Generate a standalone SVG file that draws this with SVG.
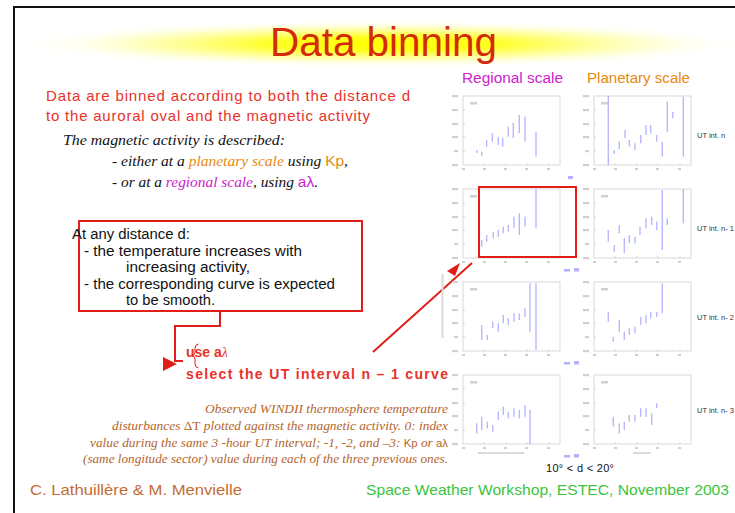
<svg xmlns="http://www.w3.org/2000/svg" width="735" height="513" viewBox="0 0 735 513">
<defs>
  <radialGradient id="glow" cx="0.5" cy="0.5" r="0.5">
    <stop offset="0" stop-color="#ffff00"/>
    <stop offset="0.3" stop-color="#ffff20"/>
    <stop offset="0.65" stop-color="#ffffa0" stop-opacity="0.75"/>
    <stop offset="1" stop-color="#ffffff" stop-opacity="0"/>
  </radialGradient>
  <g id="panel">
    <rect x="0" y="0" width="97" height="69" fill="#ffffff" stroke="#cfcfcf" stroke-width="0.8"/>
    <g fill="#d0d0d0">
      <rect x="-11" y="-1" width="6" height="2.2"/>
      <rect x="-11" y="13" width="6" height="2.2"/>
      <rect x="-11" y="27" width="6" height="2.2"/>
      <rect x="-11" y="40" width="6" height="2.2"/>
      <rect x="-9" y="54" width="4" height="2.2"/>
      <rect x="-11" y="68" width="6" height="2.2"/>
      <rect x="-1" y="72" width="3" height="2"/>
      <rect x="20" y="72" width="3" height="2"/>
      <rect x="41" y="72" width="3" height="2"/>
      <rect x="62" y="72" width="3" height="2"/>
      <rect x="84" y="72" width="3" height="2"/>
      <rect x="7" y="6" width="7" height="2.5"/>
    </g>
    <path d="M0 14h2M0 28h2M0 41h2M0 55h2M21 69v-2M43 69v-2M64 69v-2M86 69v-2" stroke="#cfcfcf" stroke-width="0.8"/>
  </g>
</defs>
<style>
  .sans{font-family:"Liberation Sans",Arial,Helvetica,sans-serif}
  .serif{font-family:"Liberation Serif","Times New Roman",serif}
  .it{font-style:italic}
  .red{fill:#e8322a}
  .mag{fill:#cc22cc}
  .org{fill:#e8890f}
  .cap{fill:#b5652d}
  .bar{stroke:#9a9aff;stroke-width:1.4;fill:none;opacity:0.7}
  .conn{stroke:#e02018;stroke-width:2;fill:none}
  .ut{font-family:"Liberation Sans",Arial,sans-serif;font-size:7.5px;fill:#333333}
  .smudge{fill:#dadada}
  .bl{fill:#9a9aff;opacity:0.75}
</style>

<rect x="0" y="0" width="735" height="513" fill="#ffffff"/>
<!-- slide border -->
<path d="M14 513V7H735" stroke="#111111" stroke-width="2" fill="none"/>

<!-- title -->
<g id="title">
  <ellipse cx="383" cy="44" rx="365" ry="24" fill="url(#glow)"/>
  <text x="270" y="56" class="sans" font-size="40" fill="#d42a0c" textLength="227" lengthAdjust="spacingAndGlyphs">Data binning</text>
</g>

<!-- intro text -->
<g id="intro">
  <text x="46" y="101" class="sans red" font-size="15" textLength="364" lengthAdjust="spacing">Data are binned according to both the distance d</text>
  <text x="46" y="121" class="sans red" font-size="15" textLength="324" lengthAdjust="spacing">to the auroral  oval and the magnetic activity</text>
  <text x="63" y="145" class="serif it" font-size="15" fill="#111111" textLength="222" lengthAdjust="spacingAndGlyphs">The magnetic activity is described:</text>
  <text x="112" y="166" class="serif it" font-size="15" fill="#111111" textLength="236" lengthAdjust="spacingAndGlyphs">- either at a <tspan class="org">planetary scale</tspan> using <tspan class="sans org" font-style="normal">Kp</tspan>,</text>
  <text x="112" y="187" class="serif it" font-size="15" fill="#111111" textLength="206" lengthAdjust="spacingAndGlyphs">- or at a <tspan class="mag">regional scale</tspan>, using <tspan class="sans mag" font-style="normal">aλ</tspan>.</text>
</g>

<!-- box -->
<g id="box">
  <rect x="79" y="221" width="283" height="90" fill="none" stroke="#e02018" stroke-width="2"/>
  <g class="sans" font-size="14" fill="#111111">
    <text x="72" y="239" textLength="118" lengthAdjust="spacingAndGlyphs">At any distance d:</text>
    <text x="84" y="256" textLength="218" lengthAdjust="spacingAndGlyphs">- the temperature increases with</text>
    <text x="126" y="272" textLength="124" lengthAdjust="spacingAndGlyphs">increasing activity,</text>
    <text x="84" y="289" textLength="251" lengthAdjust="spacingAndGlyphs">- the corresponding curve is expected</text>
    <text x="126" y="305" textLength="89" lengthAdjust="spacingAndGlyphs">to be smooth.</text>
  </g>
</g>

<!-- action text -->
<g id="action">
  <text x="186" y="357" class="sans red" font-size="14" font-weight="bold">use a<tspan font-weight="normal" font-style="italic" class="serif">λ</tspan></text>
  <text x="186" y="379" class="sans red" font-size="14" font-weight="bold" textLength="262" lengthAdjust="spacing">select the UT interval n – 1 curve</text>
</g>

<!-- connectors -->
<g id="connectors">
  <polyline class="conn" points="220,311 220,326 175,326 175,361 183,361"/>
  <polygon points="163,357 163,371 177,364" fill="#e02018"/>
  <path d="M198.5 344 Q195 344.5 195 348 V352 Q195 355 192.5 355.5 Q195 356 195 359 V364 Q195 367.5 198.5 368" stroke="#e02018" stroke-width="1" fill="none"/>
  <line class="conn" x1="373" y1="352" x2="472" y2="263"/>
  <polygon points="447,271 460,263 455,276" fill="#e02018"/>
</g>

<!-- plots -->
<g id="plots">
  <text x="462" y="83" class="sans mag" font-size="14" textLength="101" lengthAdjust="spacingAndGlyphs">Regional scale</text>
  <text x="587" y="83" class="sans org" font-size="14" textLength="103" lengthAdjust="spacingAndGlyphs">Planetary scale</text>

  <use href="#panel" x="463" y="96"/>
  <use href="#panel" x="594" y="96"/>
  <use href="#panel" x="463" y="189"/>
  <use href="#panel" x="594" y="189"/>
  <use href="#panel" x="463" y="282"/>
  <use href="#panel" x="594" y="282"/>
  <use href="#panel" x="463" y="375"/>
  <use href="#panel" x="594" y="375"/>

  <path class="bar" d="M476.7 150V153M481.7 151.7V155.7M486.7 140V146.7M492.3 133V141.7M498.3 136.7V145M502.7 138V146.7M508.3 126.7V136.7M513.3 123V138M519.3 115V133M525 116.7V141.7M536 131.7V156.7"/>
  <path class="bar" d="M608.3 96V165M614.3 150V154M619.3 141.7V149M625 130V138.3M629.3 140V146.7M635 143.3V150M640.7 135V143.3M646 125V135M650.7 125V133.3M656.7 135V141.7M662.3 141.7V156.7M667.3 101.7V131.7M672.7 111.7V118.3M683.3 96.7V156.7"/>
  <path class="bar" d="M481.7 240V246.7M486.7 235V241.7M493.3 231.7V238.3M498.3 230V236.7M503.3 226.7V233.3M508.3 225V231.7M514 216.7V228.3M519.3 213.3V235M525 216.7V226.7M536 189V228.3"/>
  <path class="bar" d="M608.3 230V241.7M614.3 245V251.7M619.3 225V233.3M624.3 238.3V253.3M629.3 235V243.3M635 236.7V243.3M640 226.7V235M646 218.3V228.3M651.7 216.7V225M656.7 221.7V230M662.3 190V250M667.3 218.3V225M683.3 189V223.3"/>
  <path class="bar" d="M481.7 325V340M487.3 335V340M492.7 321.7V328.3M498.3 323.3V331.7M503.3 315V323.3M508.3 318.3V325M514 313.3V321.7M519.3 313.3V320M525 308.3V316.7M530 283.3V331.7M536 283.3V350"/>
  <path class="bar" d="M608.3 311.7V321.7M613.3 336.7V341.7M619.3 320V331.7M624.3 331.7V340M629.3 328.3V335M635 326.7V333.3M640.7 316.7V325M646 315V323.3M650.7 311.7V318.3M656.7 311.7V316.7M662.3 283.3V313.3"/>
  <path class="bar" d="M476.7 423.3V433.3M481.7 416.7V430M487.3 421.7V428.3M492.7 425V431.7M498.3 411.7V420M503.3 406.7V415M508.3 411.7V418.3M514 408.3V416.7M519.3 410V418.3M525 405V416.7M530 410V444"/>
  <path class="bar" d="M613.3 416.7V426.7M619.3 423.3V433.3M624.3 421.7V430M629.3 415V421.7M635 415V421.7M640.7 408.3V416.7M646 408.3V416.7M651.7 413.3V425M656.7 403.3V408.3"/>

  <rect class="smudge" x="441.5" y="274" width="2" height="64"/>
  <rect class="smudge" x="478" y="452" width="46" height="2"/>
  <rect class="smudge" x="633" y="452" width="18" height="2"/>
  <rect class="bl" x="568" y="176" width="5" height="3"/>
  <rect class="bl" x="564" y="269" width="6" height="2.5"/>
  <rect class="bl" x="574" y="268" width="5" height="3.5"/>
  <rect class="bl" x="564" y="362" width="6" height="2.5"/>
  <rect class="bl" x="574" y="361" width="5" height="3.5"/>
  <rect class="bl" x="564" y="455" width="6" height="2.5"/>
  <rect class="bl" x="574" y="454" width="5" height="3.5"/>

  <text x="697" y="138" class="ut">UT int. n</text>
  <text x="697" y="231" class="ut">UT int. n- 1</text>
  <text x="697" y="320" class="ut">UT int. n- 2</text>
  <text x="697" y="413" class="ut">UT int. n- 3</text>

  <text x="546" y="472" class="sans" font-size="11" fill="#111111" textLength="68" lengthAdjust="spacing">10° &lt; d &lt; 20°</text>

  <rect x="479" y="187" width="97" height="70" fill="none" stroke="#e02018" stroke-width="2"/>
</g>

<!-- caption -->
<g id="caption" class="serif it cap" font-size="13" text-anchor="end">
  <text x="448" y="413" textLength="243" lengthAdjust="spacingAndGlyphs">Observed WINDII thermosphere temperature</text>
  <text x="448" y="430" textLength="336" lengthAdjust="spacingAndGlyphs">disturbances <tspan font-style="normal">ΔT</tspan> plotted against the magnetic activity. 0: index</text>
  <text x="448" y="447" textLength="358" lengthAdjust="spacingAndGlyphs">value during the same 3 -hour  UT interval;  -1, -2, and –3: <tspan class="sans" font-style="normal" font-size="11">Kp</tspan> or <tspan class="sans" font-style="normal" font-size="11">aλ</tspan></text>
  <text x="448" y="463" textLength="365" lengthAdjust="spacingAndGlyphs">(same longitude sector) value during each of the three previous  ones.</text>
</g>

<!-- footer -->
<g id="footer" class="sans" font-size="15">
  <text x="30" y="495" fill="#c46c34" textLength="212" lengthAdjust="spacingAndGlyphs">C. Lathuillère &amp; M. Menvielle</text>
  <text x="366" y="495" fill="#3cc43c" textLength="363" lengthAdjust="spacingAndGlyphs">Space Weather Workshop, ESTEC, November 2003</text>
</g>
</svg>
